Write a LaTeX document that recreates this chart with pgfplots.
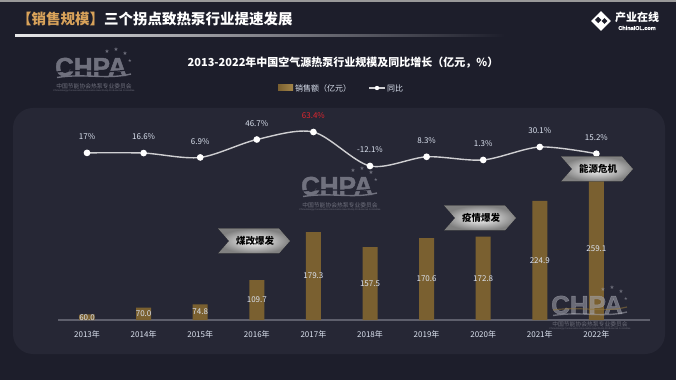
\documentclass[border=0pt]{standalone}
\usepackage{pgfplots}
\pgfplotsset{compat=1.18}
\usepackage{fontspec}
\setmainfont{Noto Sans CJK SC}
\newfontfamily\latinb{Liberation Sans}[BoldFeatures={FakeBold=1.6}]
\newfontfamily\symf{DejaVu Sans}
\definecolor{bgc}{HTML}{1D1E2B}
\definecolor{panelc}{HTML}{262735}
\definecolor{goldc}{HTML}{94773B}
\definecolor{goldd}{HTML}{7A6030}
\definecolor{goldl}{HTML}{A3854A}
\definecolor{txtc}{HTML}{DCE3F0}
\definecolor{redc}{HTML}{E3262E}
\definecolor{axc}{HTML}{5E5F6C}
\definecolor{hdr}{HTML}{D8A25A}
\definecolor{wmc}{HTML}{70717E}
\definecolor{wml}{HTML}{A5A6B0}
\definecolor{linec}{HTML}{CFCFD2}

\newcommand{\sign}[3]{%
  \fill[inner color=white, outer color=black!50] (#1-36,#2+12.5) -- (#1+25,#2+12.5) -- (#1+36,#2) -- (#1+25,#2-12.5) -- (#1-36,#2-12.5) -- (#1-25,#2) -- cycle;
  \node[font=\fontsize{9.5}{10}\selectfont\bfseries, text=black] at (#1+1,#2) {#3};
}
\newcommand{\chpa}[5]{%
  \begin{scope}[shift={(#1,#2)}, opacity=#4]
    \node[font=\latinb\fontsize{26}{26}\selectfont\bfseries, text=#3, inner sep=0] at (0,0) {CHPA};
    \draw[#5, line width=1.2] (-34,-5) .. controls (-5,-1) and (15,-8) .. (40,-2);
    \draw[#3, line width=1.4] (-34,-10.5) .. controls (-5,-6) and (15,-13) .. (40,-7);
    \node[font=\symf\fontsize{5.5}{5}\selectfont, text=#3, inner sep=0] at (16,15) {★};
    \node[font=\symf\fontsize{5.5}{5}\selectfont, text=#3, inner sep=0] at (25,17) {★};
    \node[font=\symf\fontsize{5.5}{5}\selectfont, text=#3, inner sep=0] at (34,13) {★};
    \node[font=\symf\fontsize{4.5}{4}\selectfont, text=#3, inner sep=0] at (39,6) {★};
    \node[font=\fontsize{5.8}{6}\selectfont, text=#3, inner sep=0] at (3,-19) {中国节能协会热泵专业委员会};
    \node[font=\latinb\fontsize{2.4}{3}\selectfont, text=#3, inner sep=0] at (3,-24) {China Energy Conservation Association Heat Pump Professional Committee};
  \end{scope}}

\begin{document}
\begin{tikzpicture}[x=1pt,y=1pt]
% background
\fill[bgc] (0,0) rectangle (676,380);
\fill[black!40] (0,378) rectangle (676,380);
\fill[panelc, rounded corners=20pt] (13,26) rectangle (665,272);
% header
\node[anchor=west, inner sep=0, font=\fontsize{14.5}{15}\selectfont\bfseries] at (17,361) {\textcolor{hdr}{【销售规模】}\textcolor{white}{三个拐点致热泵行业提速发展}};
\shade[left color=white!90!bgc, right color=bgc] (15,343.5) rectangle (505,345);
% logo
\begin{scope}[shift={(601,359)}]
  \fill[white, rotate=45] (-7,-7) rectangle (7,7);
  \fill[bgc, rotate=45] (-3.5,0.5) rectangle (1,5);
  \fill[bgc, rotate=45] (0.5,-4.5) rectangle (4.5,-0.5);
\end{scope}
\node[font=\fontsize{11}{12}\selectfont\bfseries, text=white, inner sep=0] at (637,363) {产业在线};
\node[font=\latinb\fontsize{5.5}{6}\selectfont\bfseries, text=white, inner sep=0] at (637,352) {ChinaIOL.com};
% title
\node[font=\fontsize{11}{12}\selectfont\bfseries, text=white] at (343,317) {2013-2022年中国空气源热泵行业规模及同比增长（亿元，\%）};
% legend
\shade[left color=goldd, right color=goldl] (278,289) rectangle (293,295);
\node[anchor=west, inner sep=0, font=\fontsize{8}{9}\selectfont, text=txtc] at (295,292) {销售额（亿元）};
\draw[linec, line width=1.2] (369,292) -- (385,292);
\fill[white] (377,292) circle (2.2);
\node[anchor=west, inner sep=0, font=\fontsize{8}{9}\selectfont, text=txtc] at (387,292) {同比};
% watermarks
\chpa{91}{313}{wmc}{1}{bgc}
\chpa{337}{194}{wmc}{1}{panelc}
% axis line
\draw[axc, line width=1.3] (58,60) -- (650,60);
% bars
\begin{axis}[
  at={(57.6pt,60pt)}, anchor=south west, scale only axis,
  width=568.2pt, height=200pt,
  xmin=-0.52, xmax=9.52, ymin=52, ymax=342,
  axis x line=bottom, axis y line=none,
  x axis line style={draw=none},
  xtick={0,...,9},
  xticklabels={2013年,2014年,2015年,2016年,2017年,2018年,2019年,2020年,2021年,2022年},
  major tick length=0pt,
  x tick label style={font=\fontsize{8}{9}\selectfont, text=txtc, yshift=-7pt},
  ybar, bar width=15pt,
  clip=false,
]
\addplot[draw=none, left color=goldd, middle color=goldl, right color=goldd,
  nodes near coords, point meta=explicit symbolic,
  visualization depends on={rawy \as \rawy},
  every node near coord/.style={anchor=center, inner sep=0pt, font=\fontsize{8}{9}\selectfont, text=txtc, yshift={-(\rawy-52)*0.3448pt}},
] coordinates {
  (0,60.0) [60.0]
  (1,70.0) [70.0]
  (2,74.8) [74.8]
  (3,109.7) [109.7]
  (4,179.3) [179.3]
  (5,157.5) [157.5]
  (6,170.6) [170.6]
  (7,172.8) [172.8]
  (8,224.9) [224.9]
  (9,259.1) [259.1]
};
\end{axis}
% growth line
\begin{axis}[
  at={(57.6pt,60pt)}, anchor=south west, scale only axis,
  width=568.2pt, height=200pt,
  xmin=-0.52, xmax=9.52, ymin=-354.4, ymax=90.1,
  axis lines=none, clip=false,
]
\addplot[smooth, tension=0.5, color=linec, line width=1.4pt,
  mark=*, mark size=2.6pt, mark options={fill=white, draw=white},
  nodes near coords, point meta=explicit symbolic,
  every node near coord/.style={anchor=center, inner sep=0pt, font=\fontsize{8}{9}\selectfont, text=txtc, yshift=16pt},
] coordinates {
  (0,17) [17\%]
  (1,16.6) [16.6\%]
  (2,6.9) [6.9\%]
  (3,46.7) [46.7\%]
  (4,63.4) [\textcolor{redc}{63.4\%}]
  (5,-12.1) [-12.1\%]
  (6,8.3) [8.3\%]
  (7,1.3) [1.3\%]
  (8,30.1) [30.1\%]
  (9,15.2) [15.2\%]
};
\end{axis}
% signs
\sign{254}{139}{煤改爆发}
\sign{480}{162}{疫情爆发}
\sign{597}{211}{能源危机}
% bottom-right watermark
\chpa{587}{75}{wml}{0.55}{goldc}
\end{tikzpicture}
\end{document}
